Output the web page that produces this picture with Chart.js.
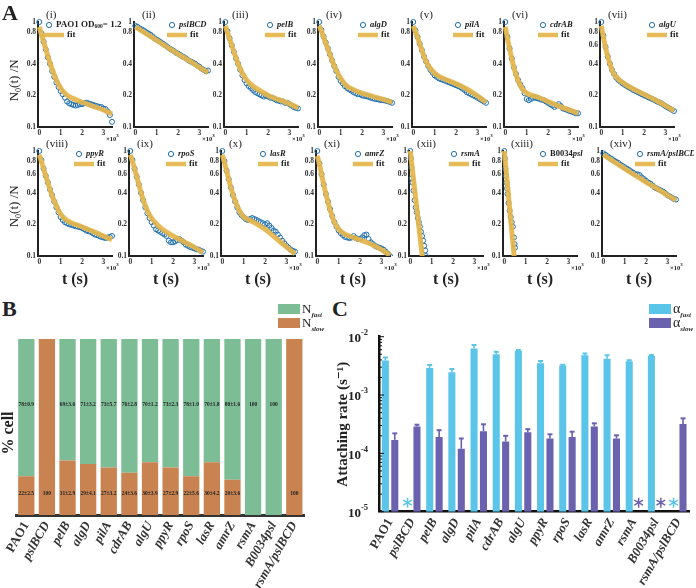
<!DOCTYPE html>
<html>
<head>
<meta charset="utf-8">
<script src="https://cdn.jsdelivr.net/npm/chart.js"></script>
<style>
body { margin: 0; background: #fff; }
#wrap { position: relative; width: 696px; height: 588px; overflow: hidden; font-family: "Liberation Serif", serif; color: #222; }
#wrap canvas { position: absolute; }
.t { position: absolute; white-space: nowrap; line-height: 1; }
</style>
</head>
<body>
<div id="wrap"></div>
<script>
// ---- panel A: decay curves N0(t)/N ----
const T_DATA = [0,100,200,300,400,500,600,700,800,900,1000,1100,1200,1300,1400,1500,1600,1700,
  1800,1900,2000,2100,2200,2300,2400,2500,2600,2700,2800,2900,3000,3100,3200,3300,3400];
const T_FIT = [0,100,200,300,400,500,600,800,1000,1250,1500,2000,2500,3000,3400];
const T_RSMA = [0,25,50,75,100,150,200,250,300,350,400,450,500,550,600,650,700,730];
const T_B0034 = [0,25,50,75,100,125,150,200,250,300,350,400,450,480,500];
const T_FIT_RSMA = [0,280,616];
const T_FIT_B0034 = [0,230,506];

const dPAO1 = [1.0,0.78,0.65,0.55,0.46,0.40,0.34,0.30,0.265,0.24,0.22,0.205,0.19,0.175,0.168,0.165,0.162,0.16,0.162,0.165,0.165,0.168,0.17,0.168,0.165,0.163,0.16,0.158,0.155,0.155,0.15,0.148,0.14,0.13,0.112];
const dPslBCD = [0.92,0.9,0.87,0.85,0.83,0.80,0.78,0.76,0.73,0.70,0.68,0.66,0.64,0.62,0.60,0.58,0.56,0.545,0.53,0.51,0.50,0.485,0.47,0.46,0.445,0.43,0.42,0.41,0.40,0.385,0.375,0.36,0.35,0.34,0.345];
const dPelB = [1.0,0.82,0.70,0.60,0.52,0.45,0.40,0.35,0.31,0.28,0.26,0.245,0.235,0.225,0.215,0.21,0.205,0.2,0.195,0.2,0.195,0.19,0.19,0.185,0.18,0.178,0.175,0.175,0.17,0.17,0.165,0.16,0.155,0.152,0.15];
const dAlgD = [1.0,0.84,0.73,0.64,0.56,0.49,0.43,0.38,0.34,0.30,0.275,0.26,0.245,0.235,0.228,0.222,0.215,0.21,0.205,0.205,0.2,0.198,0.196,0.194,0.19,0.188,0.185,0.184,0.182,0.18,0.18,0.178,0.176,0.173,0.17];
const dPilA = [1.0,0.83,0.72,0.62,0.54,0.47,0.42,0.38,0.35,0.33,0.31,0.30,0.29,0.285,0.28,0.275,0.27,0.265,0.26,0.255,0.25,0.245,0.24,0.232,0.225,0.215,0.21,0.205,0.2,0.195,0.19,0.185,0.18,0.175,0.17];
const dCdrAB = [1.0,0.72,0.56,0.45,0.37,0.32,0.28,0.255,0.235,0.21,0.185,0.18,0.185,0.19,0.19,0.188,0.185,0.182,0.18,0.175,0.17,0.165,0.16,0.155,0.16,0.165,0.158,0.15,0.148,0.145,0.142,0.14,0.138,0.135,0.135];
const dAlgU = [1.0,0.74,0.58,0.47,0.4,0.35,0.32,0.295,0.28,0.27,0.26,0.252,0.245,0.238,0.232,0.225,0.22,0.215,0.21,0.205,0.2,0.196,0.192,0.188,0.184,0.18,0.175,0.172,0.168,0.163,0.158,0.154,0.15,0.146,0.142];
const dPpyR = [1.0,0.82,0.68,0.58,0.5,0.43,0.38,0.33,0.29,0.26,0.235,0.22,0.21,0.205,0.2,0.198,0.195,0.192,0.19,0.188,0.185,0.18,0.175,0.172,0.17,0.165,0.16,0.158,0.155,0.152,0.15,0.148,0.15,0.152,0.155];
const dRpoS = [1.0,0.82,0.68,0.57,0.48,0.40,0.34,0.29,0.255,0.23,0.21,0.195,0.18,0.175,0.17,0.165,0.16,0.155,0.14,0.135,0.135,0.138,0.142,0.145,0.14,0.135,0.128,0.125,0.122,0.12,0.118,0.116,0.115,0.112,0.11];
const dLasR = [1.0,0.8,0.65,0.54,0.45,0.38,0.33,0.29,0.26,0.245,0.235,0.225,0.22,0.225,0.23,0.225,0.22,0.215,0.21,0.205,0.2,0.205,0.195,0.185,0.175,0.17,0.16,0.15,0.14,0.132,0.125,0.12,0.115,0.112,0.11];
const dAmrZ = [1.0,0.76,0.6,0.48,0.39,0.33,0.28,0.24,0.21,0.19,0.175,0.165,0.158,0.152,0.15,0.148,0.15,0.155,0.148,0.145,0.145,0.15,0.158,0.16,0.145,0.135,0.13,0.125,0.122,0.12,0.118,0.115,0.11,0.105,0.1];
const dRsmA = [1.0,0.85,0.7,0.55,0.5,0.42,0.34,0.29,0.26,0.23,0.21,0.19,0.17,0.155,0.14,0.125,0.113,0.1];
const dB0034 = [1.0,0.85,0.68,0.58,0.5,0.44,0.39,0.32,0.27,0.235,0.21,0.19,0.15,0.13,0.12];
const dRsmAPsl = [0.95,0.92,0.89,0.86,0.84,0.81,0.79,0.77,0.74,0.72,0.7,0.68,0.66,0.64,0.62,0.6,0.6,0.59,0.56,0.54,0.52,0.5,0.49,0.47,0.45,0.44,0.43,0.42,0.41,0.395,0.38,0.37,0.36,0.35,0.345];

const fPAO1 = [0.9,0.76,0.65,0.555,0.475,0.41,0.355,0.28,0.235,0.205,0.19,0.172,0.158,0.145,0.133];
const fPslBCD = [0.9,0.873,0.848,0.823,0.8,0.775,0.752,0.71,0.67,0.62,0.575,0.495,0.43,0.37,0.33];
const fPelB = [0.92,0.8,0.69,0.6,0.52,0.455,0.4,0.325,0.28,0.25,0.23,0.2,0.182,0.166,0.152];
const fAlgD = [0.92,0.82,0.72,0.63,0.555,0.49,0.43,0.345,0.29,0.25,0.232,0.21,0.196,0.183,0.172];
const fPilA = [0.92,0.81,0.71,0.62,0.54,0.47,0.42,0.36,0.325,0.3,0.285,0.258,0.23,0.198,0.172];
const fCdrAB = [0.9,0.7,0.56,0.45,0.37,0.315,0.275,0.23,0.21,0.2,0.193,0.175,0.158,0.145,0.135];
const fAlgU = [0.92,0.72,0.57,0.47,0.4,0.35,0.318,0.285,0.265,0.245,0.23,0.205,0.182,0.16,0.143];
const fPpyR = [0.92,0.8,0.68,0.58,0.5,0.43,0.375,0.3,0.25,0.222,0.207,0.19,0.172,0.155,0.143];
const fRpoS = [0.92,0.8,0.68,0.57,0.48,0.405,0.345,0.27,0.228,0.2,0.18,0.155,0.137,0.121,0.108];
const fLasR = [0.92,0.78,0.65,0.54,0.45,0.385,0.335,0.27,0.235,0.22,0.208,0.18,0.148,0.122,0.105];
const fAmrZ = [0.9,0.75,0.6,0.48,0.39,0.325,0.275,0.21,0.18,0.163,0.155,0.142,0.13,0.115,0.102];
const fRsmA = [1.0,0.316,0.079];
const fB0034 = [1.0,0.316,0.079];
const fRsmAPsl = [0.92,0.892,0.866,0.84,0.815,0.79,0.768,0.722,0.68,0.63,0.585,0.505,0.44,0.38,0.34];

const ROMANS = ['(i)','(ii)','(iii)','(iv)','(v)','(vi)','(vii)','(viii)','(ix)','(x)','(xi)','(xii)','(xiii)','(xiv)'];
const Y_TICKS_A = [1,0.8,0.4,0.2,0.1];
const Y_TICKS_B = [1,0.8,0.6,0.4,0.2,0.1];
const X_TICKS = [0,1000,2000,3000];

// ---- panel B: fractions ----
const STRAINS = ['PAO1','pslBCD','pelB','algD','pilA','cdrAB','algU','ppyR','rpoS','lasR','amrZ','rsmA','B0034psl','rsmA/pslBCD'];
const fastPct = [78,0,69,71,73,76,70,73,78,70,80,100,100,0];
const slowPct = [22,100,31,29,27,24,30,27,22,30,20,0,0,100];
const fastTxt = ['78±0.9','','69±3.6','71±3.2','73±5.7','76±2.8','70±1.2','73±2.3','78±1.0','70±1.8','80±1.6','100','100',''];
const slowTxt = ['22±2.5','100','31±2.9','29±4.1','27±3.2','24±3.6','30±3.9','27±2.9','22±5.6','30±4.2','20±3.6','','','100'];

// ---- panel C: attaching rates (s^-1) ----
const alphaFast = [3.9e-3,null,2.9e-3,2.45e-3,6.3e-3,5.0e-3,5.7e-3,3.5e-3,3.2e-3,4.8e-3,4.2e-3,3.8e-3,4.7e-3,null];
const alphaFastErr = [0.5e-3,0,0.37e-3,0.34e-3,0.9e-3,0.5e-3,0.2e-3,0.33e-3,0.1e-3,0.35e-3,0.6e-3,0.15e-3,0.15e-3,0];
const alphaSlow = [1.7e-4,2.9e-4,1.9e-4,1.2e-4,2.4e-4,1.6e-4,2.3e-4,1.8e-4,1.9e-4,2.9e-4,1.8e-4,null,null,3.2e-4];
const alphaSlowErr = [0.5e-4,0.2e-4,0.6e-4,0.6e-4,0.75e-4,0.4e-4,0.3e-4,0.32e-4,0.45e-4,0.37e-4,0.24e-4,0,0,0.78e-4];

const SERIF = '"Liberation Serif", "DejaVu Serif", serif';
const BLUE = '#1f6fae';
const YEL = 'rgba(229,181,74,0.92)';
const GREEN = '#7dbd95';
const ORANGE = '#c98351';
const CYAN = '#5ac5e8';
const PURPLE = '#6a62ae';

const wrap = document.getElementById('wrap');
function addCanvas(l, t, w, h) {
  const c = document.createElement('canvas');
  c.width = w; c.height = h;
  c.style.left = l + 'px'; c.style.top = t + 'px';
  c.style.width = w + 'px'; c.style.height = h + 'px';
  wrap.appendChild(c);
  return c;
}
function addText(html, l, t, css) {
  const d = document.createElement('div');
  d.className = 't';
  d.innerHTML = html;
  d.style.left = l + 'px'; d.style.top = t + 'px';
  if (css) d.style.cssText += css;
  wrap.appendChild(d);
  return d;
}
function pts(ts, vs) { return ts.map((t, i) => ({ x: t, y: vs[i] })); }
function drawRich(ctx, x, y, parts) {
  parts.forEach(p => {
    ctx.font = (p.it ? 'italic ' : '') + 'bold ' + p.s + 'px ' + SERIF;
    ctx.fillText(p.t, x, y + (p.dy || 0));
    x += ctx.measureText(p.t).width;
  });
}

const decayDecor = {
  id: 'decor',
  afterDraw(chart, args, o) {
    const ctx = chart.ctx, a = chart.chartArea;
    ctx.save();
    ctx.fillStyle = '#222';
    ctx.textBaseline = 'middle';
    ctx.textAlign = 'left';
    ctx.font = '11px ' + SERIF;
    ctx.fillText(o.roman, a.left + 8, a.top - 7);
    const x = a.left + o.lx, y1 = a.top + 3, y2 = a.top + 13;
    ctx.beginPath();
    ctx.arc(x, y1, 2.6, 0, Math.PI * 2);
    ctx.strokeStyle = BLUE; ctx.lineWidth = 1; ctx.stroke();
    drawRich(ctx, x + 7, y1, o.name);
    ctx.beginPath();
    ctx.moveTo(x - 5, y2); ctx.lineTo(x + 15, y2);
    ctx.strokeStyle = YEL; ctx.lineWidth = 4.5; ctx.stroke();
    drawRich(ctx, x + 18, y2, [{ t: 'fit', s: 9 }]);
    drawRich(ctx, a.right - 6, a.bottom + 12, [{ t: '×10', s: 6.5 }, { t: '3', s: 5, dy: -3 }]);
    ctx.restore();
  }
};

const DATA_T = [T_DATA,T_DATA,T_DATA,T_DATA,T_DATA,T_DATA,T_DATA,T_DATA,T_DATA,T_DATA,T_DATA,T_RSMA,T_B0034,T_DATA];
const DATA_V = [dPAO1,dPslBCD,dPelB,dAlgD,dPilA,dCdrAB,dAlgU,dPpyR,dRpoS,dLasR,dAmrZ,dRsmA,dB0034,dRsmAPsl];
const FIT_T = [T_FIT,T_FIT,T_FIT,T_FIT,T_FIT,T_FIT,T_FIT,T_FIT,T_FIT,T_FIT,T_FIT,T_FIT_RSMA,T_FIT_B0034,T_FIT];
const FIT_V = [fPAO1,fPslBCD,fPelB,fAlgD,fPilA,fCdrAB,fAlgU,fPpyR,fRpoS,fLasR,fAmrZ,fRsmA,fB0034,fRsmAPsl];

// layout of the small panels
const AXIS_X = [[38,134,224,318,412,504,600],[38,129,221,316,409,503,602]];
const ROW_TOP = [22, 151];
const LEG_DX = [11,38,46,45,46,39,52,41,42,42,42,45,40,38];

function legendParts(k) {
  const n = STRAINS[k];
  if (k === 0) return [{ t: 'PAO1 OD', s: 9 }, { t: '600', s: 5.5, dy: 2 }, { t: '= 1.2', s: 9 }];
  if (n === 'B0034psl') return [{ t: 'B0034', s: 8.5 }, { t: 'psl', s: 8.5, it: true }];
  return [{ t: n, s: 8.5, it: true }];
}

for (let k = 0; k < 14; k++) {
  const row = k < 7 ? 0 : 1, col = k % 7;
  const ax = AXIS_X[row][col], top = ROW_TOP[row];
  const yt = (row === 0 && k < 6) ? Y_TICKS_A : Y_TICKS_B;
  const c = addCanvas(ax - 28, top - 14, 120, 135);
  const clip = { left: 4, top: 4, right: 4, bottom: 0 };
  new Chart(c, {
    type: 'scatter',
    data: {
      datasets: [
        { data: pts(FIT_T[k], FIT_V[k]), showLine: true, borderColor: YEL, borderWidth: 5,
          pointRadius: 0, tension: 0.3, clip: clip },
        { data: pts(DATA_T[k], DATA_V[k]), showLine: false, pointRadius: 2.5, pointBorderWidth: 1,
          pointBorderColor: BLUE, pointBackgroundColor: 'rgba(0,0,0,0)', clip: clip }
      ]
    },
    options: {
      responsive: false, animation: false, events: [],
      layout: { padding: { left: 0, top: 14, right: 18, bottom: 0 } },
      plugins: { legend: { display: false }, tooltip: { enabled: false },
        decor: { roman: ROMANS[k], lx: LEG_DX[k], name: legendParts(k) } },
      scales: {
        x: {
          type: 'linear', min: -60, max: 3400,
          grid: { display: false, drawTicks: false },
          border: { display: true, color: '#222', width: 2 },
          ticks: { font: { family: SERIF, weight: 'bold', size: 7.5 }, color: '#333', padding: 2,
            maxRotation: 0, callback: v => String(v / 1000) },
          afterBuildTicks: s => { s.ticks = X_TICKS.map(v => ({ value: v })); },
          afterFit: s => { s.height = 16; }
        },
        y: {
          type: 'logarithmic', min: 0.1, max: 1,
          grid: { display: false, drawTicks: false },
          border: { display: true, color: '#222', width: 2 },
          ticks: { font: { family: SERIF, weight: 'bold', size: 7.5 }, color: '#333', padding: 2,
            callback: v => String(v) },
          afterBuildTicks: s => { s.ticks = yt.map(v => ({ value: v })); },
          afterFit: s => { s.width = 28; }
        }
      }
    },
    plugins: [decayDecor]
  });
  if (row === 1) addText('t (s)', ax + 37 - 20, 271, 'font-weight:bold;font-size:16px;width:40px;text-align:center;');
}
addText('N<sub style="font-size:8px">0</sub>(t) /N', -12, 72, 'font-size:13px;width:54px;text-align:center;transform:rotate(-90deg);');
addText('N<sub style="font-size:8px">0</sub>(t) /N', -12, 198, 'font-size:13px;width:54px;text-align:center;transform:rotate(-90deg);');

// panel letters
addText('A', 2, 2, 'font-weight:bold;font-size:22px;');
addText('B', 2, 298, 'font-weight:bold;font-size:22px;');
addText('C', 332, 298, 'font-weight:bold;font-size:22px;');

// ---- panel B chart ----
const barLabels = {
  id: 'barLabels',
  afterDatasetsDraw(chart) {
    const ctx = chart.ctx, y = chart.scales.y;
    const meta = chart.getDatasetMeta(0);
    ctx.save();
    ctx.font = 'bold 5.5px ' + SERIF;
    ctx.fillStyle = '#222';
    ctx.textAlign = 'center';
    ctx.textBaseline = 'middle';
    meta.data.forEach((el, i) => {
      if (fastTxt[i]) ctx.fillText(fastTxt[i], el.x, y.getPixelForValue(62.5));
      if (slowTxt[i]) ctx.fillText(slowTxt[i], el.x, y.getPixelForValue(12));
    });
    ctx.restore();
  }
};
const tickFont = c => ({ family: SERIF, weight: 'bold', size: 13, style: c.index === 0 ? 'normal' : 'italic' });

new Chart(addCanvas(0, 330, 312, 258), {
  type: 'bar',
  data: {
    labels: STRAINS,
    datasets: [
      { label: 'N slow', data: slowPct, backgroundColor: ORANGE, barPercentage: 0.79, categoryPercentage: 1 },
      { label: 'N fast', data: fastPct, backgroundColor: GREEN, barPercentage: 0.79, categoryPercentage: 1 }
    ]
  },
  options: {
    responsive: false, animation: false, events: [],
    layout: { padding: { left: 16, top: 9, right: 5, bottom: 0 } },
    plugins: { legend: { display: false }, tooltip: { enabled: false } },
    scales: {
      x: {
        stacked: true,
        grid: { display: false, drawTicks: false },
        border: { display: true, color: '#333', width: 3 },
        ticks: { autoSkip: false, minRotation: 60, maxRotation: 60, font: tickFont, color: '#333', padding: 4 },
        afterFit: s => { s.height = 73; }
      },
      y: { stacked: true, display: false, min: 0, max: 100 }
    }
  },
  plugins: [barLabels]
});
addText('% cell', 0, 425, 'font-weight:bold;font-size:16px;width:50px;text-align:center;transform:translateX(-17px) rotate(-90deg);');

// legend B
addText('', 278, 304, 'width:22px;height:10px;background:' + GREEN + ';');
addText('', 278, 318, 'width:22px;height:10px;background:' + ORANGE + ';');
addText('N<sub style="font-size:7px;font-style:italic;font-weight:bold">fast</sub>', 302, 302, 'font-size:13px;');
addText('N<sub style="font-size:7px;font-style:italic;font-weight:bold">slow</sub>', 302, 316, 'font-size:13px;');

// ---- panel C chart ----
const rateDecor = {
  id: 'rateDecor',
  afterDatasetsDraw(chart) {
    const ctx = chart.ctx, a = chart.chartArea, y = chart.scales.y;
    ctx.save();
    chart.data.datasets.forEach((ds, di) => {
      const meta = chart.getDatasetMeta(di);
      meta.data.forEach((el, j) => {
        const v = ds.data[j];
        ctx.strokeStyle = ds.backgroundColor;
        if (v == null) {
          // asterisk marking the missing rate
          const cx = el.x, cy = a.bottom - 9, r = 5;
          ctx.lineWidth = 1.5;
          ctx.beginPath();
          for (let q = 0; q < 3; q++) {
            const ang = Math.PI / 2 + q * Math.PI / 3;
            ctx.moveTo(cx + r * Math.cos(ang), cy + r * Math.sin(ang));
            ctx.lineTo(cx - r * Math.cos(ang), cy - r * Math.sin(ang));
          }
          ctx.stroke();
          return;
        }
        const ye = y.getPixelForValue(v + ds.errors[j]);
        ctx.lineWidth = 1.6;
        ctx.beginPath();
        ctx.moveTo(el.x, el.y); ctx.lineTo(el.x, ye);
        ctx.stroke();
        ctx.lineWidth = 2;
        ctx.beginPath();
        ctx.moveTo(el.x - el.width * 0.35, ye); ctx.lineTo(el.x + el.width * 0.35, ye);
        ctx.stroke();
      });
    });
    // log ticks on the y axis
    ctx.strokeStyle = '#111';
    ctx.lineWidth = 1;
    ctx.beginPath();
    for (let d = -5; d <= -2; d++) {
      const yp = y.getPixelForValue(Math.pow(10, d));
      ctx.moveTo(a.left, yp); ctx.lineTo(a.left + 5, yp);
      if (d < -2) {
        for (let m = 2; m <= 9; m++) {
          const ym = y.getPixelForValue(m * Math.pow(10, d));
          ctx.moveTo(a.left, ym); ctx.lineTo(a.left + 3, ym);
        }
      }
    }
    ctx.stroke();
    ctx.fillStyle = '#222';
    ctx.textBaseline = 'middle';
    ctx.textAlign = 'left';
    for (let d = -5; d <= -2; d++) {
      const yp = y.getPixelForValue(Math.pow(10, d));
      ctx.font = 'bold 8.5px ' + SERIF;
      const ew = ctx.measureText(String(d)).width;
      ctx.font = 'bold 13px ' + SERIF;
      const bw = ctx.measureText('10').width;
      const x0 = a.left - 11 - ew - bw;
      ctx.fillText('10', x0, yp + 2);
      ctx.font = 'bold 8.5px ' + SERIF;
      ctx.fillText(String(d), x0 + bw, yp - 4);
    }
    ctx.restore();
  }
};

new Chart(addCanvas(330, 300, 366, 288), {
  type: 'bar',
  data: {
    labels: STRAINS,
    datasets: [
      { label: 'alpha fast', data: alphaFast, errors: alphaFastErr, backgroundColor: CYAN },
      { label: 'alpha slow', data: alphaSlow, errors: alphaSlowErr, backgroundColor: PURPLE }
    ]
  },
  options: {
    responsive: false, animation: false, events: [],
    layout: { padding: { left: 0, top: 36.7, right: 6, bottom: 0 } },
    datasets: { bar: { categoryPercentage: 0.85, barPercentage: 0.75 } },
    plugins: { legend: { display: false }, tooltip: { enabled: false } },
    scales: {
      x: {
        grid: { display: false, drawTicks: false },
        border: { display: true, color: '#111', width: 2.5 },
        ticks: { autoSkip: false, minRotation: 60, maxRotation: 60, font: tickFont, color: '#333', padding: 4 },
        afterFit: s => { s.height = 76.3; }
      },
      y: {
        type: 'logarithmic', min: 1e-5, max: 1e-2,
        grid: { display: false, drawTicks: false },
        border: { display: true, color: '#111', width: 2.5 },
        ticks: { display: false },
        title: { display: true, text: 'Attaching rate (s⁻¹)', color: '#222', padding: 4,
          font: { family: SERIF, weight: 'bold', size: 15 } },
        afterFit: s => { s.width = 49; }
      }
    }
  },
  plugins: [rateDecor]
});

// legend C
addText('', 649, 304, 'width:22px;height:10px;background:' + CYAN + ';');
addText('', 649, 318, 'width:22px;height:10px;background:' + PURPLE + ';');
addText('α<sub style="font-size:7px;font-style:italic;font-weight:bold">fast</sub>', 673, 302, 'font-size:14px;');
addText('α<sub style="font-size:7px;font-style:italic;font-weight:bold">slow</sub>', 673, 316, 'font-size:14px;');
</script>
</body>
</html>
